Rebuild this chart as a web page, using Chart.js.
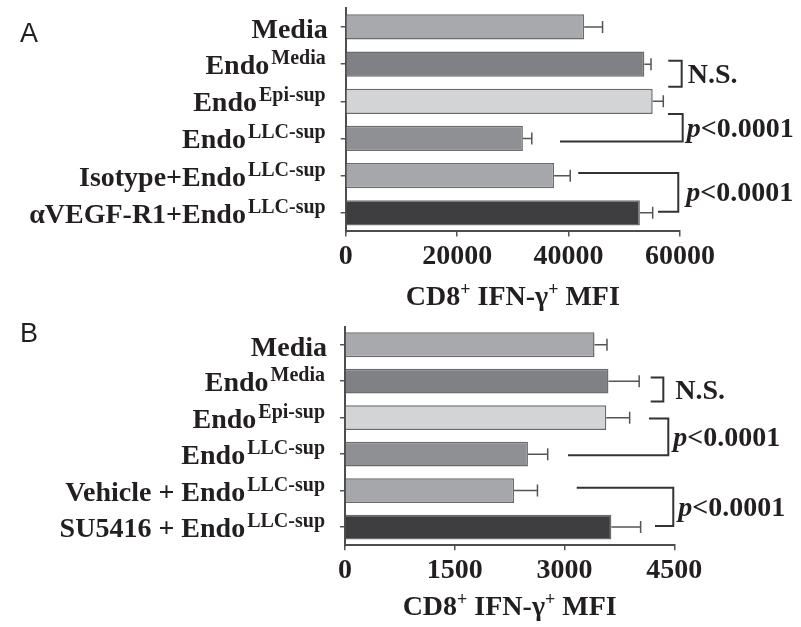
<!DOCTYPE html>
<html><head><meta charset="utf-8">
<script src="https://cdn.jsdelivr.net/npm/chart.js@4"></script>
<style>
body{margin:0;background:#fff;width:801px;height:627px;position:relative;overflow:hidden}
canvas{position:absolute;left:0}
#ca{top:0}
#cb{top:300px}
</style></head><body>
<canvas id="ca" width="801" height="318"></canvas>
<canvas id="cb" width="801" height="327"></canvas>
<script>
// ---- data ----
const categoriesA = ['Media','Endo^Media','Endo^Epi-sup','Endo^LLC-sup','Isotype+Endo^LLC-sup','\u03B1VEGF-R1+Endo^LLC-sup'];
const valuesA = [42800, 53600, 55100, 31800, 37400, 52800];
const errorsA = [3300, 1200, 1900, 1600, 2900, 2300];
const ticksA = [0, 20000, 40000, 60000];

const categoriesB = ['Media','Endo^Media','Endo^Epi-sup','Endo^LLC-sup','Vehicle + Endo^LLC-sup','SU5416 + Endo^LLC-sup'];
const valuesB = [3410, 3600, 3570, 2500, 2310, 3640];
const errorsB = [170, 420, 320, 270, 320, 400];
const ticksB = [0, 1500, 3000, 4500];

const axisTitle = [['CD8',false],['+',true],[' IFN-\u03B3',false],['+',true],[' MFI',false]];

// brackets: [vertical x value, top index, bottom index, top arm start value, bottom arm start value, label]
const bracketsA = [
  [60300, 0.91, 1.61, 57900, 57900, 'N.S.'],
  [60480, 2.34, 3.08, 57840, 38460, 'p<0.0001'],
  [59690, 3.93, 4.97, 41740, 56050, 'p<0.0001']
];
const bracketsB = [
  [4350, 0.90, 1.56, 4177, 4177, 'N.S.'],
  [4418, 2.02, 3.03, 4154, 3047, 'p<0.0001'],
  [4486, 3.92, 4.97, 3166, 4236, 'p<0.0001']
];
const textOffsetsA = [6, 4, 8];
const textOffsetsB = [12, 5, 5];

const barColors = ['#a7a9ac','#808184','#d3d4d6','#8f9093','#a5a7aa','#3e3d40'];

// ---- drawing ----
const SERIF = '"Liberation Serif","Times New Roman",serif';
const INK = '#231f20';

function drawComposite(ctx, parts, x, y, align, mainSize, supSize, rise, gap) {
  const widths = parts.map(p => { ctx.font = 'bold ' + (p[1] ? supSize : mainSize) + 'px ' + SERIF; return ctx.measureText(p[0]).width + (p[1] ? gap : 0); });
  const total = widths.reduce((a, b) => a + b, 0);
  let cx = align === 'right' ? x - total : align === 'center' ? x - total / 2 : x;
  ctx.textAlign = 'left'; ctx.textBaseline = 'alphabetic'; ctx.fillStyle = INK;
  parts.forEach((p, i) => {
    ctx.font = 'bold ' + (p[1] ? supSize : mainSize) + 'px ' + SERIF;
    ctx.fillText(p[0], cx + (p[1] ? gap : 0), p[1] ? y - rise : y);
    cx += widths[i];
  });
}

function makeChart(id, cats, vals, errs, ticks, max, area, brackets, offs, letter, letterY, titleY) {
  const canvas = document.getElementById(id);
  const H = area.h, W = canvas.width;
  const overlay = {
    id: 'overlay',
    afterDraw(chart) {
      const ctx = chart.ctx, xs = chart.scales.x, ys = chart.scales.y, ca = chart.chartArea;
      ctx.save();
      // error bars
      const meta = chart.getDatasetMeta(0);
      ctx.strokeStyle = '#555'; ctx.lineWidth = 1.5;
      meta.data.forEach((el, i) => {
        const x0 = el.x, x1 = xs.getPixelForValue(vals[i] + errs[i]), y = el.y;
        ctx.beginPath(); ctx.moveTo(x0, y); ctx.lineTo(x1, y);
        ctx.moveTo(x1, y - 6); ctx.lineTo(x1, y + 6); ctx.stroke();
      });
      // category labels with superscripts
      cats.forEach((c, i) => {
        const y = ys.getPixelForValue(i);
        const sp = c.split('^');
        if (sp.length > 1) {
          drawComposite(ctx, [[sp[0], false], [sp[1], true]], ca.left - 20, y + 10, 'right', 28, 20, 10, 2);
        } else {
          drawComposite(ctx, [[sp[0], false]], ca.left - 18, y + 11, 'right', 28, 20, 10, 0);
        }
      });
      // brackets
      ctx.strokeStyle = '#333'; ctx.lineWidth = 2;
      brackets.forEach((b, k) => {
        const vx = xs.getPixelForValue(b[0]);
        const yt = ys.getPixelForValue(b[1]), yb = ys.getPixelForValue(b[2]);
        ctx.beginPath();
        ctx.moveTo(xs.getPixelForValue(b[3]), yt); ctx.lineTo(vx, yt); ctx.lineTo(vx, yb);
        ctx.lineTo(xs.getPixelForValue(b[4]), yb); ctx.stroke();
        const ty = (yt + yb) / 2 + 9;
        const tx = vx + offs[k];
        ctx.fillStyle = INK; ctx.textAlign = 'left'; ctx.textBaseline = 'alphabetic';
        if (b[5].startsWith('p')) {
          ctx.font = 'italic bold 28px ' + SERIF;
          ctx.fillText('p', tx, ty);
          const w = ctx.measureText('p').width;
          ctx.font = 'bold 28px ' + SERIF;
          ctx.fillText(b[5].slice(1), tx + w, ty);
        } else {
          ctx.font = 'bold 28px ' + SERIF;
          ctx.fillText(b[5], tx, ty);
        }
      });
      // axis title
      drawComposite(ctx, axisTitle, (ca.left + ca.right) / 2, titleY, 'center', 28, 18, 10, 0);
      // panel letter
      ctx.font = '27px "Liberation Sans",Arial,sans-serif';
      ctx.fillStyle = INK; ctx.textAlign = 'left';
      ctx.fillText(letter, 20, letterY);
      ctx.restore();
    }
  };
  return new Chart(canvas, {
    type: 'bar',
    data: {
      labels: cats,
      datasets: [{
        data: vals,
        backgroundColor: barColors,
        borderColor: '#6a6b6e',
        borderWidth: 1.5,
        categoryPercentage: 0.68,
        barPercentage: 1
      }]
    },
    options: {
      indexAxis: 'y',
      responsive: false,
      animation: false,
      layout: { padding: { left: 0, right: W - area.right, top: area.top, bottom: 0 } },
      plugins: { legend: { display: false }, tooltip: { enabled: false } },
      scales: {
        x: {
          type: 'linear', min: 0, max: max,
          afterBuildTicks: s => { s.ticks = ticks.map(v => ({ value: v })); },
          afterFit: s => { s.height = canvas.height - area.bottom; },
          ticks: { font: { family: SERIF, size: 28, weight: 'bold' }, color: INK, padding: 4, callback: v => String(v), maxRotation: 0, autoSkip: false },
          grid: { display: true, drawOnChartArea: false, drawTicks: true, tickLength: 5, color: '#555', lineWidth: 1.5 },
          border: { display: true, color: '#4d4d4d', width: 2 }
        },
        y: {
          type: 'category', offset: true,
          afterFit: s => { s.width = area.left; },
          ticks: { display: false },
          grid: { display: true, offset: false, drawOnChartArea: false, drawTicks: true, tickLength: 5, color: '#555', lineWidth: 1.5 },
          border: { display: true, color: '#4d4d4d', width: 2 }
        }
      }
    },
    plugins: [overlay]
  });
}

makeChart('ca', categoriesA, valuesA, errorsA, ticksA, 60000,
  { left: 345.7, right: 680, top: 8.4, bottom: 231.4 }, bracketsA, textOffsetsA, 'A', 42, 305);
makeChart('cb', categoriesB, valuesB, errorsB, ticksB, 4500,
  { left: 345, right: 674.3, top: 26.5, bottom: 245.3 }, bracketsB, textOffsetsB, 'B', 42, 315);
</script>
</body></html>
